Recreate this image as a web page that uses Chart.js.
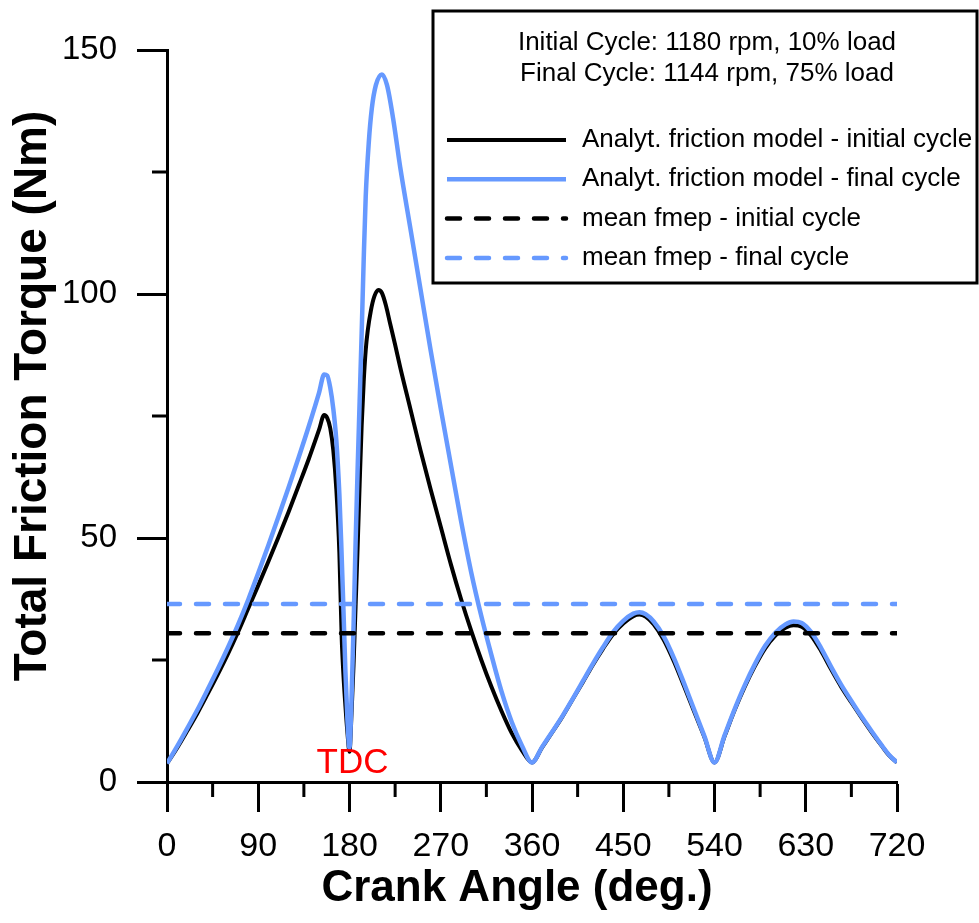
<!DOCTYPE html>
<html>
<head>
<meta charset="utf-8">
<script src="https://cdn.jsdelivr.net/npm/chart.js@4/dist/chart.umd.min.js"></script>
<style>
  html, body { margin: 0; padding: 0; background: #fff; }
</style>
</head>
<body>
<canvas id="chart" width="979" height="923"></canvas>
<script>
const FONT = "'Liberation Sans', Arial, sans-serif";
const BLUE = '#6699ff';

// crank angle (deg) / total friction torque (Nm)
const initialAngles = [0, 10, 20, 30, 40, 50, 60, 70, 80, 90, 100, 110, 120, 130, 140, 150, 155, 158, 161, 164, 167, 170, 172.3, 174, 176, 178, 180,
  182, 184, 186, 188, 190, 192, 194, 196, 198, 201, 204.5, 208.5, 212, 216, 220, 225, 230, 240, 250, 260, 270, 280, 290, 300, 310, 320, 330, 340, 350, 360,
  370, 380, 390, 400, 410, 420, 430, 440, 450, 460, 466, 472, 480, 490, 500, 510, 520, 530, 540,
  550, 560, 570, 580, 590, 600, 610, 618, 626, 635, 645, 655, 665, 675, 685, 695, 705, 712, 720];
const initialTorque = [3.8, 7, 10.5, 14.1, 18, 22, 26.2, 30.7, 35.5, 40.3, 45.2, 50.2, 55.4, 60.8, 66.3, 72.2, 75.2, 74.6, 72.5, 68, 60, 47, 29.5, 22, 15.5, 10, 6.2,
  14, 24, 36, 48, 61, 73, 82, 88.5, 92.5, 96.5, 99.5, 100.8, 100.2, 97.6, 94, 89.6, 85, 76.5, 68, 60, 52.3, 44.6, 37.5, 31, 25, 19.5, 14.5, 10, 6.5, 4,
  7.1, 10.2, 13.4, 16.9, 20.4, 24, 27.3, 30.3, 32.5, 34, 34.3, 33.9, 32.3, 29.1, 24.7, 19.6, 14.4, 9.2, 4,
  9.4, 14.8, 19.6, 23.8, 27.4, 30, 31.6, 32.1, 31.8, 30.1, 26.9, 23.1, 19.5, 16.3, 13.2, 10.2, 7.4, 5.5, 4];

const finalAngles = [0, 10, 20, 30, 40, 50, 60, 70, 80, 90, 100, 110, 120, 130, 140, 150, 155, 158, 161, 164, 167, 170, 172, 174, 176, 178, 180,
  182, 184, 186, 188, 190, 192, 194, 196, 199, 202, 206, 212, 217, 223, 230, 240, 250, 260, 270, 280, 290, 300, 310, 320, 330, 340, 350, 360,
  370, 380, 390, 400, 410, 420, 430, 440, 450, 460, 466, 472, 480, 490, 500, 510, 520, 530, 540,
  550, 560, 570, 580, 590, 600, 610, 618, 626, 635, 645, 655, 665, 675, 685, 695, 705, 712, 720];
const finalTorque = [3.8, 7.3, 11, 14.8, 18.9, 23.1, 27.5, 32.2, 37.3, 42.8, 48.5, 54.4, 60.4, 66.6, 73, 79.8, 83.5, 83.3, 80.8, 76.5, 70, 59, 48, 35.5, 22.5, 12.5, 7,
  17, 32, 49, 64, 78, 92, 107, 120, 131, 138, 142.8, 145, 142.8, 136, 126, 113.5, 101, 88.5, 76.5, 65, 53.5, 43, 34, 26, 18.5, 12.3, 7.5, 4,
  7.2, 10.3, 13.5, 17, 20.6, 24.2, 27.6, 30.7, 33, 34.5, 34.8, 34.4, 32.9, 29.8, 25.4, 20.2, 14.8, 9.4, 4,
  9.6, 15, 19.9, 24.2, 27.9, 30.6, 32.3, 32.9, 32.6, 30.8, 27.5, 23.6, 19.9, 16.6, 13.4, 10.4, 7.5, 5.6, 4];

const meanFmepInitial = 30.5;
const meanFmepFinal = 36.5;
const angleRange = [0, 720];

const xTicks = [0, 90, 180, 270, 360, 450, 540, 630, 720];
const xMinorTicks = [45, 135, 225, 315, 405, 495, 585, 675];
const yTicks = [0, 50, 100, 150];
const yMinorTicks = [25, 75, 125];

const headerLines = ['Initial Cycle: 1180 rpm, 10% load', 'Final Cycle: 1144 rpm, 75% load'];
const xTitle = 'Crank Angle (deg.)';
const yTitle = 'Total Friction Torque (Nm)';
const tdcLabel = { text: 'TDC', x: 183, y: 3.9 };

const toPoints = (xs, ys) => xs.map((x, i) => ({ x, y: ys[i] }));

const decorations = {
  id: 'decorations',
  afterDraw(chart) {
    const { ctx, scales: { x, y }, chartArea } = chart;
    ctx.save();

    // minor ticks (shorter, outward)
    ctx.strokeStyle = '#000';
    ctx.lineWidth = 3;
    ctx.beginPath();
    xMinorTicks.forEach((v) => {
      const px = x.getPixelForValue(v);
      ctx.moveTo(px, chartArea.bottom);
      ctx.lineTo(px, chartArea.bottom + 15);
    });
    yMinorTicks.forEach((v) => {
      const py = y.getPixelForValue(v);
      ctx.moveTo(chartArea.left, py);
      ctx.lineTo(chartArea.left - 15, py);
    });
    ctx.stroke();

    // axis titles
    ctx.fillStyle = '#000';
    ctx.textAlign = 'center';
    ctx.textBaseline = 'middle';
    ctx.font = `bold 44px ${FONT}`;
    ctx.fillText(xTitle, 517, 889);
    ctx.save();
    ctx.translate(33, 396);
    ctx.rotate(-Math.PI / 2);
    ctx.font = `bold 46px ${FONT}`;
    ctx.fillText(yTitle, 0, 0);
    ctx.restore();

    // TDC marker label
    ctx.fillStyle = '#ff0000';
    ctx.font = `35px ${FONT}`;
    ctx.fillText(tdcLabel.text, x.getPixelForValue(tdcLabel.x), y.getPixelForValue(tdcLabel.y));

    // legend box
    const box = { left: 433, top: 11, right: 977, bottom: 283 };
    ctx.fillStyle = '#fff';
    ctx.fillRect(box.left, box.top, box.right - box.left, box.bottom - box.top);
    ctx.strokeStyle = '#000';
    ctx.lineWidth = 3;
    ctx.setLineDash([]);
    ctx.strokeRect(box.left, box.top, box.right - box.left, box.bottom - box.top);

    ctx.fillStyle = '#000';
    ctx.font = `26px ${FONT}`;
    ctx.textAlign = 'center';
    headerLines.forEach((line, i) => ctx.fillText(line, 707, 43 + i * 31));

    ctx.textAlign = 'left';
    chart.data.datasets.forEach((ds, i) => {
      const rowY = 140 + i * 39.3;
      ctx.strokeStyle = ds.borderColor;
      ctx.lineWidth = ds.borderWidth;
      ctx.lineCap = ds.borderCapStyle || 'butt';
      ctx.setLineDash(ds.borderDash || []);
      ctx.beginPath();
      ctx.moveTo(447, rowY);
      ctx.lineTo(566, rowY);
      ctx.stroke();
      ctx.fillText(ds.label, 582, rowY);
    });
    ctx.restore();
  },
};

new Chart(document.getElementById('chart'), {
  type: 'line',
  data: {
    datasets: [
      {
        label: 'Analyt. friction model - initial cycle',
        data: toPoints(initialAngles, initialTorque),
        borderColor: '#000',
        borderWidth: 4,
        order: 3,
      },
      {
        label: 'Analyt. friction model - final cycle',
        data: toPoints(finalAngles, finalTorque),
        borderColor: BLUE,
        borderWidth: 4.5,
        order: 2,
      },
      {
        label: 'mean fmep - initial cycle',
        data: toPoints(angleRange, [meanFmepInitial, meanFmepInitial]),
        borderColor: '#000',
        borderWidth: 4.5,
        borderDash: [13, 16],
        borderCapStyle: 'round',
        order: 1,
      },
      {
        label: 'mean fmep - final cycle',
        data: toPoints(angleRange, [meanFmepFinal, meanFmepFinal]),
        borderColor: BLUE,
        borderWidth: 4.5,
        borderDash: [13, 16],
        borderCapStyle: 'round',
        order: 0,
      },
    ],
  },
  options: {
    responsive: false,
    animation: false,
    devicePixelRatio: 1,
    layout: { padding: { left: 0, top: 50, right: 82, bottom: 0 } },
    elements: {
      point: { radius: 0 },
      line: { cubicInterpolationMode: 'monotone', fill: false, borderJoinStyle: 'round' },
    },
    plugins: { legend: { display: false }, tooltip: { enabled: false } },
    scales: {
      x: {
        type: 'linear',
        min: 0,
        max: 720,
        afterFit: (s) => { s.height = 141; },
        afterBuildTicks: (s) => { s.ticks = xTicks.map((value) => ({ value })); },
        ticks: { font: { family: FONT, size: 34 }, color: '#000', padding: 14, maxRotation: 0, autoSkip: false },
        grid: { drawOnChartArea: false, tickLength: 30, tickWidth: 3, tickColor: '#000' },
        border: { color: '#000', width: 3 },
      },
      y: {
        type: 'linear',
        min: 0,
        max: 150,
        afterFit: (s) => { s.width = 167; },
        afterBuildTicks: (s) => { s.ticks = yTicks.map((value) => ({ value })); },
        ticks: { font: { family: FONT, size: 33 }, color: '#000', padding: 20, autoSkip: false },
        grid: { drawOnChartArea: false, tickLength: 30, tickWidth: 3, tickColor: '#000' },
        border: { color: '#000', width: 3 },
      },
    },
  },
  plugins: [decorations],
});
</script>
</body>
</html>
